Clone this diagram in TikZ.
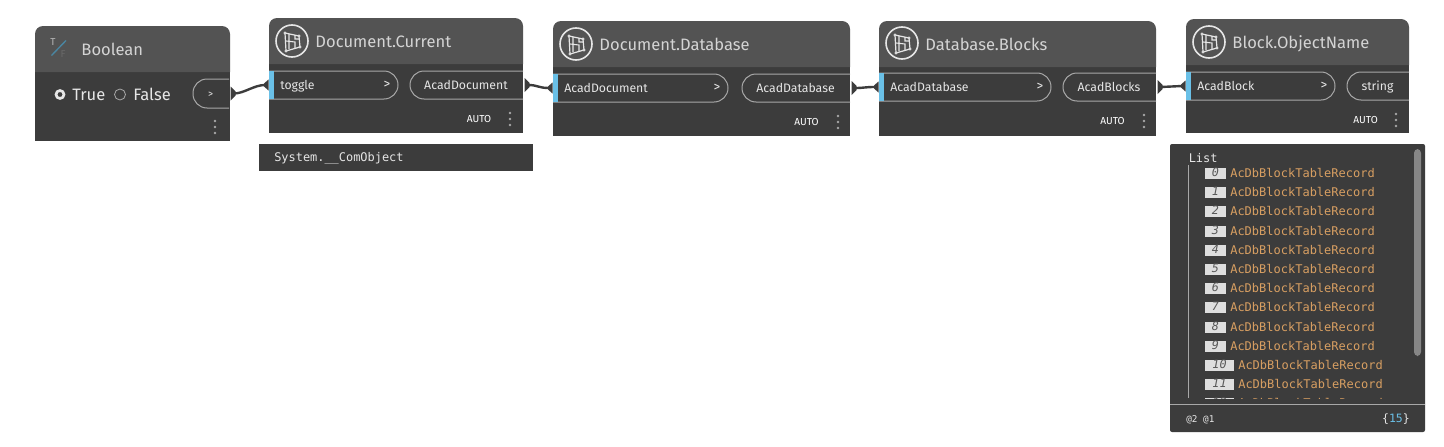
\documentclass[tikz,border=0pt]{standalone}
\usepackage{fontspec}
\setmainfont{Fira Sans}
\setmonofont{DejaVu Sans Mono}
\usetikzlibrary{calc}
\definecolor{nbody}{HTML}{3C3C3C}
\definecolor{nhead}{HTML}{535353}
\definecolor{nline}{HTML}{A8A8A8}
\definecolor{ntext}{HTML}{E6E6E6}
\definecolor{nblue}{HTML}{6AC0E7}
\definecolor{norange}{HTML}{D89F62}
\definecolor{nidx}{HTML}{DEDEDE}
\definecolor{nwire}{HTML}{3C3C3C}
\tikzset{
  titletxt/.style={anchor=west,inner sep=0pt,text height=8.8pt,text depth=0pt,text=ntext!92!black,font=\fontsize{12.4pt}{14pt}\selectfont},
  porttxt/.style={anchor=west,inner sep=0pt,text height=6.4pt,text depth=0pt,text=ntext,font=\fontsize{9.2pt}{11pt}\selectfont},
  bigtxt/.style={anchor=west,inner sep=0pt,text height=8.6pt,text depth=0pt,text=ntext,font=\fontsize{12.4pt}{14pt}\selectfont},
  autotxt/.style={anchor=east,inner sep=0pt,text=white,font=\fontsize{7.6pt}{8pt}\selectfont},
  monotxt/.style={anchor=west,inner sep=0pt,text height=6.5pt,text depth=0pt,text=ntext,font=\ttfamily\fontsize{8.95pt}{10pt}\selectfont},
  rectxt/.style={anchor=west,inner sep=0pt,text height=6.6pt,text depth=0pt,text=norange,font=\ttfamily\fontsize{9pt}{10pt}\selectfont},
  idxtxt/.style={anchor=center,inner sep=0pt,text height=6.2pt,text depth=0pt,text=black!65,font=\ttfamily\itshape\fontsize{8.8pt}{10pt}\selectfont},
  portline/.style={draw=nline,line width=0.75pt},
  wire/.style={draw=nwire,line width=1.8pt},
  stub/.style={fill=nwire,draw=none},
  dotmark/.style={fill=nline,draw=none},
}
% name, x1, y1, x2, y2, header bottom, title, title x
\newcommand{\dynbox}[8]{%
  \fill[nbody] (#2,#6) rectangle (#4,#5);
  \fill[nhead] (#2,#6) -- (#2,#3+8) arc[start angle=180,end angle=270,radius=8] -- (#4-8,#3) arc[start angle=270,end angle=360,radius=8] -- (#4,#6) -- cycle;
  \node[titletxt] (#1-title) at (#8-0.8,{(#3+#6)/2+1}) {#7};
}
% input port: name, x1, y1, x2, y2, label
\newcommand{\inport}[6]{%
  \path[portline] (#2,#3) -- (#4-14,#3) arc[start angle=270,end angle=360,radius=14] -- (#4,#5-14) arc[start angle=0,end angle=90,radius=14] -- (#2,#5);
  \fill[nblue] (#2,#3) rectangle (#2+5,#5);
  \node[porttxt] (#1-inlbl) at (#2+11,{(#3+#5)/2}) {#6};
  \node[anchor=center,inner sep=0pt,text=ntext,font=\fontsize{10pt}{11pt}\selectfont] (#1-gt) at (#4-11,{(#3+#5)/2}) {>};
  \coordinate (#1-in) at (#2,{(#3+#5)/2});
}
% output port: name, x1, y1, x2, y2, label
\newcommand{\outport}[6]{%
  \path[portline] (#4,#3) -- (#2+14,#3) arc[start angle=270,end angle=180,radius=14] -- (#2,#5-14) arc[start angle=180,end angle=90,radius=14] -- (#4,#5);
  \node[porttxt,anchor=center] (#1-outlbl) at ({(#2+#4)/2-0.5},{(#3+#5)/2}) {#6};
  \coordinate (#1-out) at (#4,{(#3+#5)/2});
}
\newcommand{\threedots}[2]{%
  \fill[dotmark] (#1,#2-6) circle[radius=1.4];
  \fill[dotmark] (#1,#2) circle[radius=1.4];
  \fill[dotmark] (#1,#2+6) circle[radius=1.4];
}
% icon: centre x, y
\newcommand{\blockicon}[2]{%
  \begin{scope}[shift={(#1,#2)}]
    \draw[ntext,line width=1.2pt] (0,0) circle[radius=16];
    \draw[ntext,line width=0.9pt,line join=round] (-7,-8) -- (7,-5) -- (8,6) -- (-6,10) -- cycle;
    \draw[ntext,line width=0.8pt] (-3,-7) -- (-3,8) (-6,0) -- (3,1) -- (3,7) (3,-6) -- (3,-2) -- (7,-2);
    \fill[nhead] (-6,10) circle[radius=1.2] (-7,-8) circle[radius=1.2] (7,-5) circle[radius=1.2] (8,6) circle[radius=1.2];
    \draw[ntext,line width=0.5pt] (-6,10) circle[radius=1.2] (-7,-8) circle[radius=1.2] (7,-5) circle[radius=1.2] (8,6) circle[radius=1.2];
  \end{scope}
}
\newcommand{\wireconn}[2]{%
  \fill[stub] ($(#1)+(1.5,-7)$) -- ($(#1)+(6.5,-2)$) -- ($(#1)+(6.5,2)$) -- ($(#1)+(1.5,7)$) -- cycle;
  \fill[stub] ($(#2)+(-0.5,-5.5)$) -- ($(#2)+(-5,-1.5)$) -- ($(#2)+(-5,1.5)$) -- ($(#2)+(-0.5,5.5)$) -- cycle;
  \draw[wire] ($(#1)+(5,0)$) .. controls ($(#1)+(15,0)$) and ($(#2)+(-15,0)$) .. ($(#2)+(-4,0)$);
}
% row: y, index, box right edge, text x
\newcommand{\listrow}[4]{%
  \fill[nidx] (1205,#1-5.5) rectangle (#3,#1+5.5);
  \node[idxtxt] at ({(1205+#3)/2},#1-0.5) {#2};
  \node[rectxt] at (#4,#1) {AcDbBlockTableRecord};
}
\begin{document}
\begin{tikzpicture}[x=0.75pt,y=-0.75pt]
\useasboundingbox (0,0) rectangle (1444,446);
\fill[white] (0,0) rectangle (1444,446);

% Boolean
\dynbox{bo}{35}{26}{230}{141}{72}{Boolean}{82}
\node[anchor=center,inner sep=0pt,text=ntext!80!black,font=\fontsize{7.5pt}{8pt}\selectfont] (boT) at (53,42) {T};
\node[anchor=center,inner sep=0pt,text=ntext!45!black,font=\fontsize{7.5pt}{8pt}\selectfont] (boF) at (63,54.5) {F};
\draw[nblue!70!black,line width=1pt] (51.5,55.5) -- (66,40.5);
\draw[ntext,line width=2pt] (60,94.5) circle[radius=4];
\node[bigtxt] (boTrue) at (72,94.5) {True};
\draw[nline,line width=0.6pt] (120,94.5) circle[radius=5.5];
\node[bigtxt] (boFalse) at (133,94.5) {False};
\outport{bo}{193}{79}{229}{108}{\fontsize{7.5pt}{8pt}\selectfont >}
\threedots{215}{127}

% Document.Current
\dynbox{dc}{269}{18}{523}{133}{64}{Document.Current}{316}
\blockicon{292}{41}
\inport{dc}{269}{71}{398}{99}{toggle}
\outport{dc}{410}{71}{523}{99}{AcadDocument}
\node[autotxt] (dcauto) at (491.5,119.5) {AUTO};
\threedots{510}{119}

% Watch
\fill[nbody] (259,144) rectangle (533,171);
\node[monotxt] (watch) at (274,157.5) {System.\_\_ComObject};

% Document.Database
\dynbox{dd}{553}{21}{850}{136}{67}{Document.Database}{600}
\blockicon{576}{44}
\inport{dd}{553}{74}{728}{102}{AcadDocument}
\outport{dd}{742}{74}{850}{102}{AcadDatabase}
\node[autotxt] (ddauto) at (819,122.5) {AUTO};
\threedots{838}{122}

% Database.Blocks
\dynbox{db}{879}{21}{1156}{136}{67}{Database.Blocks}{926}
\blockicon{902}{43}
\inport{db}{879}{73}{1051}{101}{AcadDatabase}
\outport{db}{1063}{73}{1156}{101}{AcadBlocks}
\node[autotxt] (dbauto) at (1125,121.5) {AUTO};
\threedots{1144}{121}

% Block.ObjectName
\dynbox{bn}{1186}{19}{1409}{133}{65}{Block.ObjectName}{1233}
\blockicon{1209}{42}
\inport{bn}{1186}{72}{1335}{100}{AcadBlock}
\outport{bn}{1347}{72}{1409}{100}{string}
\node[autotxt] (bnauto) at (1378,120.5) {AUTO};
\threedots{1396}{120}

% Connectors
\wireconn{bo-out}{dc-in}
\wireconn{dc-out}{dd-in}
\wireconn{dd-out}{db-in}
\wireconn{db-out}{bn-in}

% List panel
\fill[nbody,rounded corners=1.5pt] (1170,144) rectangle (1425,432);
\fill[nline!80!black,rounded corners=3pt] (1414,149) rectangle (1421,356);
\node[monotxt] (listhd) at (1188.5,158) {List};
\draw[nline,line width=0.75pt] (1188,165) -- (1188,398);
\begin{scope}
  \clip (1170,160) rectangle (1412,398.5);
  \listrow{173}{0}{1226}{1230}
  \listrow{192}{1}{1226}{1230}
  \listrow{211}{2}{1226}{1230}
  \listrow{231}{3}{1226}{1230}
  \listrow{250}{4}{1226}{1230}
  \listrow{269}{5}{1226}{1230}
  \listrow{288}{6}{1226}{1230}
  \listrow{307}{7}{1226}{1230}
  \listrow{327}{8}{1226}{1230}
  \listrow{346}{9}{1226}{1230}
  \listrow{365}{10}{1234}{1238}
  \listrow{384}{11}{1234}{1238}
  \listrow{403}{12}{1234}{1238}
\end{scope}
\draw[nline,line width=0.75pt] (1170,404.5) -- (1425,404.5);
\node[monotxt,font=\ttfamily\fontsize{7pt}{8pt}\selectfont] (levels) at (1186,418.5) {@2 @1};
\node[monotxt,anchor=east,font=\ttfamily\fontsize{8.6pt}{10pt}\selectfont] (count) at (1410,418.5) {\{\textcolor{nblue}{15}\}};
\end{tikzpicture}
\end{document}
